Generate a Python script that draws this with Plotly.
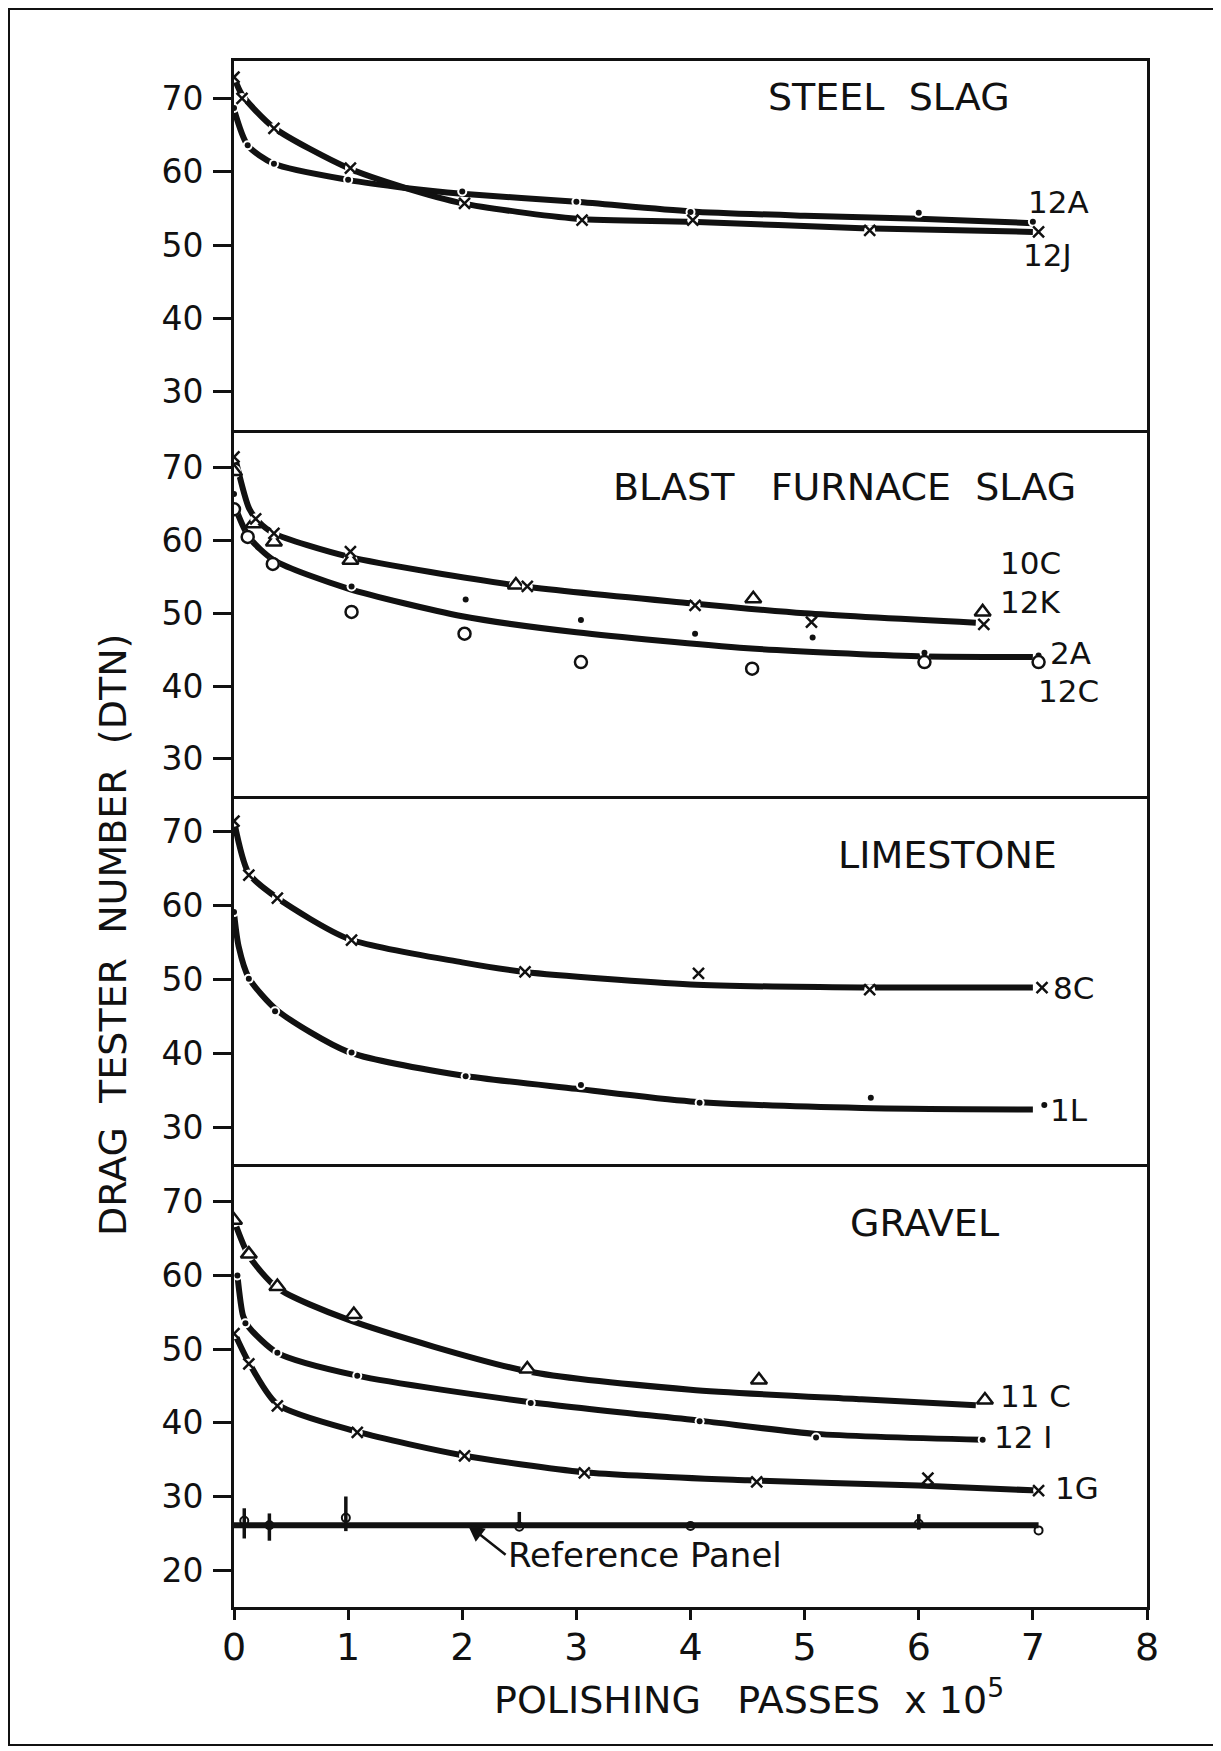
import plotly.graph_objects as go
from plotly.subplots import make_subplots

# ---------------- DATA ----------------
x_ticks = [0, 1, 2, 3, 4, 5, 6, 7, 8]

# STEEL SLAG
ss_12A_curve_x = [0, 0.12, 0.35, 1.0, 1.5, 2.0, 3.0, 4.0, 5.0, 6.0, 7.0]
ss_12A_curve_y = [68.5, 63.6, 61.1, 58.9, 57.8, 57.0, 55.9, 54.6, 54.0, 53.6, 53.0]
ss_12A_x = [0, 0.12, 0.35, 1.0, 2.0, 3.0, 4.0, 6.0, 7.0]
ss_12A_y = [68.7, 63.6, 61.1, 58.9, 57.3, 55.9, 54.5, 54.4, 53.2]
ss_12J_curve_x = [0, 0.07, 0.35, 1.0, 1.5, 2.0, 3.0, 4.0, 5.5, 7.0]
ss_12J_curve_y = [72.9, 70.5, 66.0, 60.5, 57.8, 55.7, 53.6, 53.2, 52.3, 51.8]
ss_12J_x = [0, 0.07, 0.35, 1.02, 2.02, 3.05, 4.02, 5.57, 7.05]
ss_12J_y = [72.9, 70.0, 65.9, 60.5, 55.7, 53.4, 53.4, 52.0, 51.8]

# BLAST FURNACE SLAG
bf_upper_curve_x = [0, 0.13, 0.21, 0.35, 1.0, 2.5, 4.0, 5.0, 6.5]
bf_upper_curve_y = [72.0, 64.5, 62.7, 61.0, 57.8, 53.8, 51.4, 50.0, 48.7]
bf_10C_x = [0, 0.17, 0.35, 1.02, 2.47, 4.55, 6.56]
bf_10C_y = [69.5, 62.3, 59.8, 57.3, 53.9, 52.0, 50.2]
bf_12K_x = [0, 0.19, 0.35, 1.02, 2.57, 4.04, 5.06, 6.57]
bf_12K_y = [71.5, 63.0, 61.0, 58.5, 53.7, 51.1, 48.8, 48.5]
bf_lower_curve_x = [0, 0.13, 0.35, 1.0, 2.0, 3.0, 4.5, 6.0, 7.0]
bf_lower_curve_y = [65.0, 60.5, 57.3, 53.4, 49.6, 47.4, 45.2, 44.1, 44.0]
bf_2A_x = [0, 1.03, 2.03, 3.04, 4.04, 5.07, 6.05, 7.05]
bf_2A_y = [66.4, 53.7, 51.9, 49.1, 47.2, 46.7, 44.6, 44.2]
bf_12C_x = [0, 0.12, 0.34, 1.03, 2.02, 3.04, 4.54, 6.05, 7.05]
bf_12C_y = [64.3, 60.5, 56.8, 50.2, 47.2, 43.3, 42.4, 43.3, 43.3]

# LIMESTONE
ls_8C_curve_x = [0, 0.13, 0.38, 1.0, 2.0, 2.55, 4.0, 5.5, 7.0]
ls_8C_curve_y = [71.4, 64.3, 61.0, 55.5, 52.3, 51.0, 49.3, 48.9, 48.9]
ls_8C_x = [0, 0.13, 0.38, 1.03, 2.55, 4.07, 5.57, 7.08]
ls_8C_y = [71.4, 64.1, 61.0, 55.3, 51.0, 50.8, 48.6, 48.9]
ls_1L_curve_x = [0, 0.04, 0.13, 0.38, 1.0, 2.0, 3.0, 4.0, 5.5, 7.0]
ls_1L_curve_y = [59.0, 54.5, 50.2, 45.8, 40.2, 37.0, 35.2, 33.5, 32.6, 32.4]
ls_1L_x = [0, 0.13, 0.36, 1.03, 2.03, 3.04, 4.08, 5.58, 7.1]
ls_1L_y = [59.1, 50.1, 45.7, 40.1, 36.9, 35.7, 33.3, 34.0, 33.0]

# GRAVEL
gr_11C_curve_x = [0, 0.13, 0.38, 1.0, 2.57, 4.0, 5.5, 6.5]
gr_11C_curve_y = [67.5, 62.7, 58.3, 54.0, 47.0, 44.5, 43.2, 42.4]
gr_11C_x = [0, 0.13, 0.38, 1.05, 2.57, 4.6, 6.58]
gr_11C_y = [67.5, 62.9, 58.5, 54.7, 47.3, 45.8, 43.1]
gr_12I_curve_x = [0.03, 0.08, 0.13, 0.38, 1.08, 2.6, 4.08, 5.1, 6.56]
gr_12I_curve_y = [60.0, 54.5, 53.0, 49.5, 46.4, 42.8, 40.3, 38.5, 37.7]
gr_12I_x = [0.03, 0.1, 0.38, 1.08, 2.6, 4.08, 5.1, 6.56]
gr_12I_y = [60.0, 53.5, 49.5, 46.4, 42.7, 40.2, 38.0, 37.7]
gr_1G_curve_x = [0, 0.13, 0.38, 1.08, 2.0, 3.07, 4.5, 6.0, 7.05]
gr_1G_curve_y = [52.3, 48.2, 42.5, 38.8, 35.6, 33.3, 32.2, 31.5, 30.8]
gr_1G_x = [0, 0.13, 0.38, 1.08, 2.02, 3.07, 4.58, 6.08, 7.05]
gr_1G_y = [52.1, 48.0, 42.3, 38.7, 35.5, 33.2, 32.0, 32.5, 30.8]
ref_curve_x = [0, 7.05]
ref_curve_y = [26.1, 26.1]
ref_x = [0.09, 0.31, 0.98, 2.5, 4.0, 6.0, 7.05]
ref_y = [26.7, 26.1, 27.1, 25.9, 26.0, 26.3, 25.4]
ref_hi = [28.4, 27.7, 30.0, 27.9, 26.0, 27.6, 25.4]
ref_lo = [24.3, 24.0, 25.3, 25.7, 26.0, 25.5, 25.4]

panel_titles = ["STEEL\u00a0\u00a0SLAG",
                "BLAST\u00a0\u00a0\u00a0FURNACE\u00a0\u00a0SLAG",
                "LIMESTONE", "GRAVEL"]

# ---------------- FIGURE ----------------
FONT = "DejaVu Sans"
BLACK = "#111111"
fig = make_subplots(rows=4, cols=1, shared_xaxes=True, vertical_spacing=0)


def curve(x, y, row):
    fig.add_trace(go.Scatter(x=x, y=y, mode="lines", line=dict(color=BLACK, width=6, shape="spline", smoothing=0.7),
                             showlegend=False, hoverinfo="skip"), row=row, col=1)


def marks(x, y, row, symbol, size, lw=2.5, gap=11):
    fig.add_trace(go.Scatter(x=x, y=y, mode="markers", marker=dict(symbol="circle", size=gap, color="white"),
                             showlegend=False, hoverinfo="skip"), row=row, col=1)
    fig.add_trace(go.Scatter(x=x, y=y, mode="markers",
                             marker=dict(symbol=symbol, size=size, color=BLACK,
                                         line=dict(color=BLACK, width=lw)),
                             showlegend=False), row=row, col=1)


# panel 1
curve(ss_12A_curve_x, ss_12A_curve_y, 1)
curve(ss_12J_curve_x, ss_12J_curve_y, 1)
marks(ss_12A_x, ss_12A_y, 1, "circle", 6, 0, 10)
marks(ss_12J_x, ss_12J_y, 1, "x-thin", 11)
# panel 2
curve(bf_upper_curve_x, bf_upper_curve_y, 2)
curve(bf_lower_curve_x, bf_lower_curve_y, 2)
marks(bf_2A_x, bf_2A_y, 2, "circle", 6, 0, 10)
marks(bf_12C_x, bf_12C_y, 2, "circle-open", 12, 2.5, 14)
marks(bf_10C_x, bf_10C_y, 2, "triangle-up-open", 14, 2.5, 14)
marks(bf_12K_x, bf_12K_y, 2, "x-thin", 11)
# panel 3
curve(ls_8C_curve_x, ls_8C_curve_y, 3)
curve(ls_1L_curve_x, ls_1L_curve_y, 3)
marks(ls_8C_x, ls_8C_y, 3, "x-thin", 11)
marks(ls_1L_x, ls_1L_y, 3, "circle", 6, 0, 10)
# panel 4
curve(gr_11C_curve_x, gr_11C_curve_y, 4)
curve(gr_12I_curve_x, gr_12I_curve_y, 4)
curve(gr_1G_curve_x, gr_1G_curve_y, 4)
curve(ref_curve_x, ref_curve_y, 4)
marks(gr_11C_x, gr_11C_y, 4, "triangle-up-open", 14, 2.5, 14)
marks(gr_12I_x, gr_12I_y, 4, "circle", 6, 0, 10)
marks(gr_1G_x, gr_1G_y, 4, "x-thin", 11)
fig.add_trace(go.Scatter(x=ref_x, y=ref_y, mode="markers",
                         marker=dict(symbol="circle-open", size=8, color=BLACK, line=dict(color=BLACK, width=2)),
                         error_y=dict(type="data", symmetric=False,
                                      array=[h - v for h, v in zip(ref_hi, ref_y)],
                                      arrayminus=[v - l for v, l in zip(ref_y, ref_lo)],
                                      color=BLACK, thickness=3.5, width=0),
                         showlegend=False), row=4, col=1)

# ---------------- LAYOUT ----------------
OFF = 8  # page body margin
L, R, T, B = 234 - OFF, 1147 - OFF, 61 - OFF, 1607 - OFF
W, H = 1221, 1751
ph = B - T
pw = R - L
edges = [e - OFF for e in [61, 430, 796, 1163.5, 1607]]
domains = [[(B - edges[i + 1]) / ph, (B - edges[i]) / ph] for i in range(4)]
yranges = [[24.8, 75.1], [24.9, 75.2], [25.1, 74.8], [15.0, 75.2]]
ytickvals = [[30, 40, 50, 60, 70], [30, 40, 50, 60, 70], [30, 40, 50, 60, 70], [20, 30, 40, 50, 60, 70]]

fig.update_layout(width=W, height=H, paper_bgcolor="white", plot_bgcolor="white",
                  margin=dict(l=L, r=W - R, t=T, b=H - B), showlegend=False,
                  font=dict(family=FONT, color=BLACK))

for i in range(4):
    n = i + 1
    yk = "yaxis" if n == 1 else f"yaxis{n}"
    xk = "xaxis" if n == 1 else f"xaxis{n}"
    fig.layout[yk].update(domain=domains[i], range=yranges[i], tickvals=ytickvals[i],
                          showgrid=False, zeroline=False, showline=True, mirror=True,
                          linecolor=BLACK, linewidth=3, ticks="outside", ticklen=18, tickwidth=3,
                          tickcolor=BLACK, ticklabelstandoff=3,
                          tickfont=dict(family=FONT, size=33, color=BLACK))
    fig.layout[xk].update(range=[0, 8], showgrid=False, zeroline=False, showline=True,
                          mirror=(n == 1),
                          linecolor=BLACK, linewidth=3, tickvals=x_ticks,
                          ticks="outside" if n == 4 else "", ticklen=10, tickwidth=3, tickcolor=BLACK,
                          showticklabels=(n == 4), ticklabelstandoff=-6,
                          tickfont=dict(family=FONT, size=38, color=BLACK))

ann = []
title_pos = [(5.74, 70.2), (5.35, 67.4), (6.25, 66.8), (6.05, 67.1)]
for i, (t, (tx, ty)) in enumerate(zip(panel_titles, title_pos)):
    n = i + 1
    ann.append(dict(text=t, x=tx, y=ty, xref=f"x{'' if n == 1 else n}", yref=f"y{'' if n == 1 else n}",
                    showarrow=False, font=dict(family=FONT, size=38, color=BLACK)))

series_labels = [
    ("12A", 6.94, 55.9, 1), ("12J", 6.9, 48.6, 1),
    ("10C", 6.69, 56.9, 2), ("12K", 6.69, 51.6, 2), ("2A", 7.13, 44.5, 2), ("12C", 7.03, 39.3, 2),
    ("8C", 7.16, 48.8, 3), ("1L", 7.13, 32.3, 3),
    ("11 C", 6.69, 43.7, 4), ("12 I", 6.64, 38.1, 4), ("1G", 7.18, 31.1, 4),
]
for t, lx, ly, n in series_labels:
    ann.append(dict(text=t, x=lx, y=ly, xref=f"x{'' if n == 1 else n}", yref=f"y{'' if n == 1 else n}",
                    xanchor="left", showarrow=False, font=dict(family=FONT, size=31, color=BLACK)))

ann.append(dict(text="Reference Panel", x=2.05, y=26.1, xref="x4", yref="y4",
                ax=2.38, ay=22.1, axref="x4", ayref="y4", xanchor="left",
                showarrow=True, arrowhead=2, arrowsize=1.3, arrowwidth=2.5, arrowcolor=BLACK,
                font=dict(family=FONT, size=34, color=BLACK)))

ann.append(dict(text="DRAG\u00a0\u00a0TESTER\u00a0\u00a0NUMBER\u00a0\u00a0(DTN)", x=(89 - OFF - L) / pw,
                y=(B - (935 - OFF)) / ph, xref="paper", yref="paper", textangle=-90, showarrow=False,
                font=dict(family=FONT, size=38, color=BLACK)))
ann.append(dict(text="POLISHING\u00a0\u00a0\u00a0PASSES\u00a0\u00a0x 10<sup>5</sup>", x=(749 - OFF - L) / pw,
                y=(B - (1724 - OFF)) / ph, xref="paper", yref="paper", showarrow=False,
                font=dict(family=FONT, size=38, color=BLACK)))
fig.update_layout(annotations=ann)

fig.add_shape(type="rect", xref="paper", yref="paper",
              x0=(9 - OFF - L) / pw, x1=(1215 - OFF - L) / pw, y0=(B - (1745 - OFF)) / ph, y1=(B - 1) / ph,
              line=dict(color=BLACK, width=2))

fig.write_html("out.html")
